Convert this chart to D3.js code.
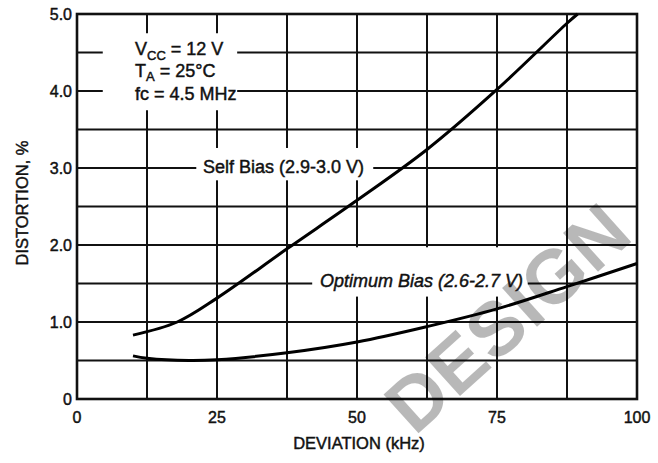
<!DOCTYPE html>
<html><head><meta charset="utf-8">
<script src="https://cdn.jsdelivr.net/npm/d3@7/dist/d3.min.js"></script>
<style>
body{margin:0;background:#fff}
svg{display:block}
text{font-family:"Liberation Sans",Arial,sans-serif;fill:#111}
.t{stroke:#111;stroke-width:0.45px}
</style>
</head><body>
<svg id="c" width="658" height="463"></svg>
<script>
const xTickValues = [0, 25, 50, 75, 100];
const xTickLabels = ["0", "25", "50", "75", "100"];
const yTickValues = [0, 1, 2, 3, 4, 5];
const yTickLabels = ["0", "1.0", "2.0", "3.0", "4.0", "5.0"];
const xGridValues = [12.5, 25, 37.5, 50, 62.5, 75, 87.5];
const yGridValues = [0.5, 1, 1.5, 2, 2.5, 3, 3.5, 4, 4.5];

const selfBiasX = [10, 17.9, 25, 37.5, 50, 62.5, 75, 87.5, 89.4];
const selfBiasY = [0.83, 1.0, 1.31, 1.95, 2.58, 3.24, 4.02, 4.88, 5.0];
const optBiasX = [10, 12.5, 20, 25, 37.5, 50, 62.5, 75, 87.5, 100];
const optBiasY = [0.56, 0.53, 0.50, 0.51, 0.60, 0.74, 0.94, 1.17, 1.46, 1.76];

const xTitle = "DEVIATION (kHz)";
const yTitle = "DISTORTION, %";
const selfLabel = "Self Bias (2.9-3.0 V)";
const optLabel = "Optimum Bias (2.6-2.7 V)";

const svg = d3.select("#c");
const x = d3.scaleLinear().domain([0, 100]).range([77, 637]);
const y = d3.scaleLinear().domain([0, 5]).range([399, 14]);

// grid
const g = svg.append("g").attr("stroke", "#111").attr("stroke-width", 2);
g.selectAll("line.v").data(xGridValues).enter().append("line")
  .attr("x1", d => x(d)).attr("x2", d => x(d)).attr("y1", y(5)).attr("y2", y(0));
g.selectAll("line.h").data(yGridValues).enter().append("line")
  .attr("x1", x(0)).attr("x2", x(100)).attr("y1", d => y(d)).attr("y2", d => y(d));

// white label boxes interrupting the grid
const boxes = [
  {x0: 4.6, x1: 28.6, y0: 4.75, y1: 3.75},
  {x0: 21.3, x1: 52.9, y0: 3.26, y1: 2.84},
  {x0: 42.0, x1: 80.5, y0: 1.97, y1: 1.33}
];
svg.append("g").selectAll("rect").data(boxes).enter().append("rect")
  .attr("x", d => x(d.x0)).attr("y", d => y(d.y0))
  .attr("width", d => x(d.x1) - x(d.x0)).attr("height", d => y(d.y1) - y(d.y0))
  .attr("fill", "#fff");

// frame
svg.append("rect").attr("x", x(0)).attr("y", y(5))
  .attr("width", x(100) - x(0)).attr("height", y(0) - y(5))
  .attr("fill", "none").attr("stroke", "#111").attr("stroke-width", 2.6);

// watermark
svg.append("text").text("DESIGN")
  .attr("transform", "translate(507,317) rotate(-42)")
  .attr("text-anchor", "middle").attr("dy", "0.36em")
  .style("font-weight", "bold").style("font-size", "76px")
  .style("letter-spacing", "1px")
  .style("fill", "#000").style("fill-opacity", 0.28);

// y tick labels
svg.append("g").selectAll("text").data(yTickValues).enter().append("text")
  .attr("class", "t")
  .attr("x", 72).attr("y", d => y(d)).attr("dy", "0.36em")
  .attr("text-anchor", "end").style("font-size", "16px")
  .text((d, i) => yTickLabels[i]);

// x tick labels
svg.append("g").selectAll("text").data(xTickValues).enter().append("text")
  .attr("class", "t")
  .attr("x", d => x(d)).attr("y", 423)
  .attr("text-anchor", "middle").style("font-size", "16px")
  .text((d, i) => xTickLabels[i]);

// axis titles
svg.append("text").attr("class", "t").attr("x", 359).attr("y", 449).attr("text-anchor", "middle")
  .style("font-size", "16.5px").text(xTitle);
svg.append("text").attr("class", "t").attr("transform", "translate(28,203) rotate(-90)")
  .attr("text-anchor", "middle").style("font-size", "16.5px").text(yTitle);

// conditions annotation
const ann = svg.append("g").attr("class", "t").style("font-size", "18px");
const t1 = ann.append("text").attr("x", 135).attr("y", 55);
t1.append("tspan").text("V");
t1.append("tspan").attr("dy", 5).style("font-size", "13px").text("CC");
t1.append("tspan").attr("dy", -5).text(" = 12 V");
const t2 = ann.append("text").attr("x", 135).attr("y", 77);
t2.append("tspan").text("T");
t2.append("tspan").attr("dy", 4).style("font-size", "13px").text("A");
t2.append("tspan").attr("dy", -4).text(" = 25°C");
ann.append("text").attr("x", 135).attr("y", 100).text("fc = 4.5 MHz");

// curve labels
svg.append("text").attr("class", "t").attr("x", 203).attr("y", 173).style("font-size", "18px").text(selfLabel);
svg.append("text").attr("class", "t").attr("x", 320).attr("y", 287).style("font-size", "18px")
  .style("font-style", "italic").text(optLabel);

// curves
const line = d3.line().x(d => x(d[0])).y(d => y(d[1])).curve(d3.curveCatmullRom.alpha(0.5));
svg.append("path").datum(selfBiasX.map((v, i) => [v, selfBiasY[i]]))
  .attr("d", line).attr("fill", "none").attr("stroke", "#000").attr("stroke-width", 3);
svg.append("path").datum(optBiasX.map((v, i) => [v, optBiasY[i]]))
  .attr("d", line).attr("fill", "none").attr("stroke", "#000").attr("stroke-width", 3);
</script>
</body></html>
